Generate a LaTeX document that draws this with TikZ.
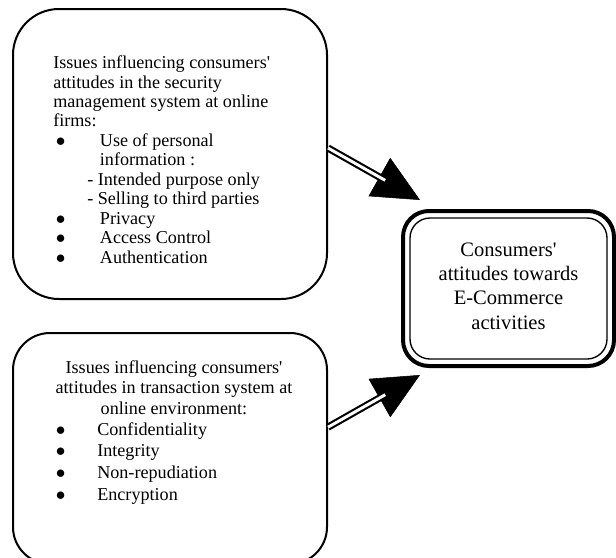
\documentclass[tikz,border=0pt]{standalone}
\usepackage{fontspec}
\setmainfont{Liberation Serif}
\usetikzlibrary{arrows.meta}

\newcommand{\bitem}[2][35pt]{\makebox[#1][l]{\hspace*{2pt}$\bullet$}#2}

\begin{document}
\begin{tikzpicture}[
    x=0.75pt, y=-0.75pt,
    issuebox/.style={
        rectangle, rounded corners=#1, draw=black, line width=1.5pt,
        minimum width=235.5pt, inner sep=0pt
    },
    issuebox/.default={34.5pt},
    issuetext/.style={
        inner sep=0pt, font=\fontsize{13.6}{#1}\selectfont
    },
    issuetext/.default={14.6},
    goalbox/.style={
        rectangle, rounded corners=19.5pt, draw=black, line width=3pt,
        minimum width=158.25pt, minimum height=116.25pt, align=center,
        font=\fontsize{15.4}{18.3}\selectfont
    },
    shaft/.style={
        double, double distance=2.2pt, line width=1.6pt, shorten >=30pt
    }
]

\useasboundingbox (0,0) rectangle (616,557);

% Issue boxes
\node[issuebox, minimum height=217.5pt] (sec) at (170,154) {};
\node[issuebox=27.75pt, minimum height=173.25pt] (trans) at (170,448.5) {};

\node[issuetext, anchor=north west, align=left] (sectext) at (53,55.5)
    {Issues influencing consumers\textquotesingle\\
     attitudes in the security\\
     management system at online\\
     firms:\\
     \bitem{Use of personal}\\
     \hspace*{35pt}information :\\
     \hspace*{25.5pt}- Intended purpose only\\
     \hspace*{25.5pt}- Selling to third parties\\
     \bitem{Privacy}\\
     \bitem{Access Control}\\
     \bitem{Authentication}};

\node[issuetext=15.2, anchor=north, align=center] (transhead) at (174,360.5)
    {Issues influencing consumers\textquotesingle\\
     attitudes in transaction system at\\
     online environment:};
\node[issuetext=16.3, anchor=north west, align=left] (transtext) at (53,422)
    {\bitem[33pt]{Confidentiality}\\
     \bitem[33pt]{Integrity}\\
     \bitem[33pt]{Non-repudiation}\\
     \bitem[33pt]{Encryption}};

% --- Outcome ---
\node[goalbox, text depth=4pt] (goal) at (508.5,288.5)
    {Consumers\textquotesingle\\ attitudes towards\\ E-Commerce\\ activities};
\draw[rounded corners=15pt, line width=1pt]
    ([shift={(9,9)}]goal.north west) rectangle ([shift={(-9,-9)}]goal.south east);

% Arrows
\coordinate (s1) at ([yshift=4.5pt]sec.east);
\coordinate (t1) at ([shift={(19,-9)}]goal.north west);
\coordinate (s2) at ([yshift=16pt]trans.east);
\coordinate (t2) at ([shift={(19,7)}]goal.south west);

\foreach \a/\b in {s1/t1, s2/t2} {
    \draw[-{Triangle[length=35pt, width=33pt]}, line width=0.4pt] (\a) -- (\b);
    \draw[shaft] (\a) -- (\b);
}

\end{tikzpicture}
\end{document}
